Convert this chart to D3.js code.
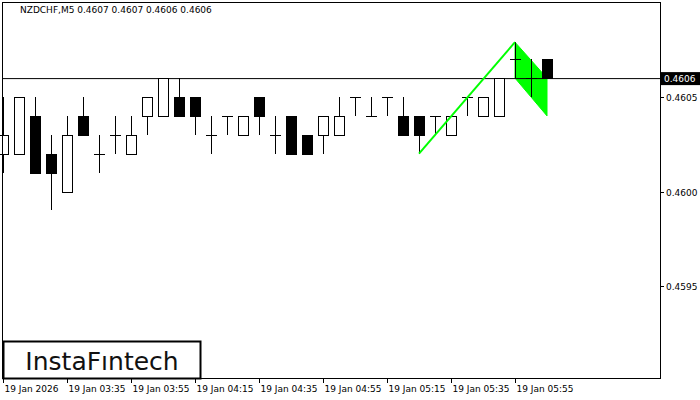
<!DOCTYPE html>
<html><head><meta charset="utf-8">
<script src="https://cdn.jsdelivr.net/npm/d3@7"></script>
<style>body{margin:0;background:#fff}text{font-family:Tahoma,"DejaVu Sans",sans-serif}</style>
</head><body><svg id="chart" width="700" height="400"></svg>
<script>
// candles: open, high, low, close
const opens  = [.4602,.4602,.4604,.4602,.4600,.4604,.4602,.4603,.4602,.4604,.4604,.4605,.4605,.4603,.4604,.4603,.4605,.4603,.4604,.4603,.4603,.4603,.4605,.4604,.4605,.4604,.4604,.4604,.4603,.4605,.4604,.4604,.4607,.4606,.4607];
const highs  = [.4605,.4605,.4605,.4603,.4604,.4605,.4603,.4604,.4604,.4605,.4606,.4606,.4605,.4604,.4604,.4604,.4605,.4604,.4604,.4603,.4604,.4605,.4605,.4605,.4605,.4605,.4604,.4604,.4604,.4605,.4605,.4606,.46079,.4607,.4607];
const lows   = [.4601,.4602,.4601,.4599,.4600,.4603,.4601,.4602,.4602,.4603,.4604,.4604,.4603,.4602,.4603,.4603,.4603,.4602,.4602,.4602,.4602,.4603,.4604,.4604,.4604,.4603,.4602,.4603,.4603,.4604,.4604,.4604,.4606,.4605,.4606];
const closes = [.4603,.4605,.4601,.4601,.4603,.4603,.4602,.4603,.4603,.4605,.4606,.4604,.4604,.4603,.4604,.4604,.4604,.4603,.4602,.4602,.4604,.4604,.4605,.4604,.4605,.4603,.4603,.4604,.4604,.4605,.4605,.4606,.4607,.4606,.4606];
const timeLabels = ['19 Jan 2026','19 Jan 03:35','19 Jan 03:55','19 Jan 04:15','19 Jan 04:35','19 Jan 04:55','19 Jan 05:15','19 Jan 05:35','19 Jan 05:55'];
const priceTicks = [0.4605, 0.4600, 0.4595];
const lastPrice = 0.4606;
// pole: [index, price], flag: top and bottom edges
const pole = [[26, 0.4602], [32, 0.46079]];
const flag = [[32, 0.46079], [34, 0.4606], [34, 0.4604], [32, 0.4606]];

const svg = d3.select('#chart');
const x = d3.scaleLinear().domain([0, 1]).range([3, 19]);
const y = d3.scaleLinear().domain([0.4605, 0.4600]).range([97, 191.5]);
const idx = d3.range(opens.length);

svg.append('text').attr('x', 20).attr('y', 13).attr('font-size', 9).attr('fill', '#000')
  .text('NZDCHF,M5  0.4607 0.4607 0.4606 0.4606');

// flag body (behind candles)
svg.append('path').attr('d', d3.line().x(d => x(d[0])).y(d => y(d[1]))(flag) + 'Z')
  .attr('fill', '#00ff00').attr('stroke', '#00ff00').attr('stroke-width', 1);

// current price line
svg.append('line').attr('x1', 2).attr('x2', 660).attr('y1', y(lastPrice) + .5).attr('y2', y(lastPrice) + .5)
  .attr('stroke', '#000');

const g = svg.append('g').attr('shape-rendering', 'crispEdges');
g.selectAll('.wick').data(idx).join('line')
  .attr('x1', i => Math.round(x(i)) + .5).attr('x2', i => Math.round(x(i)) + .5)
  .attr('y1', i => Math.round(y(highs[i]))).attr('y2', i => Math.round(y(lows[i])))
  .attr('stroke', '#000');
g.selectAll('.body').data(idx.filter(i => opens[i] !== closes[i])).join('rect')
  .attr('x', i => Math.round(x(i)) - 5 + .5)
  .attr('width', 10)
  .attr('y', i => Math.round(y(Math.max(opens[i], closes[i]))) + .5)
  .attr('height', i => Math.round(Math.abs(y(opens[i]) - y(closes[i]))))
  .attr('fill', i => closes[i] < opens[i] ? '#000' : '#fff')
  .attr('stroke', '#000');
g.selectAll('.doji').data(idx.filter(i => opens[i] === closes[i])).join('line')
  .attr('x1', i => Math.round(x(i)) - 5).attr('x2', i => Math.round(x(i)) + 6)
  .attr('y1', i => Math.round(y(opens[i])) + .5).attr('y2', i => Math.round(y(opens[i])) + .5)
  .attr('stroke', '#000');

// flag pole (over candles)
svg.append('path').attr('d', d3.line().x(d => x(d[0])).y(d => y(d[1]))(pole))
  .attr('fill', 'none').attr('stroke', '#00ff00').attr('stroke-width', 2);

// frame
svg.append('rect').attr('x', 2.5).attr('y', 2.5).attr('width', 657.5).attr('height', 376)
  .attr('fill', 'none').attr('stroke', '#000').attr('shape-rendering', 'crispEdges');

// right axis
priceTicks.forEach(p => {
  svg.append('line').attr('x1', 660).attr('x2', 664).attr('y1', Math.round(y(p)) + .5).attr('y2', Math.round(y(p)) + .5).attr('stroke', '#000');
  svg.append('text').attr('x', 666).attr('y', y(p) + 4).attr('font-size', 9).attr('fill', '#000').text(p.toFixed(4));
});
svg.append('rect').attr('x', 661).attr('y', y(lastPrice) - 6).attr('width', 39).attr('height', 13).attr('fill', '#000');
svg.append('text').attr('x', 664).attr('y', y(lastPrice) + 4).attr('font-size', 9).attr('fill', '#fff').text(lastPrice.toFixed(4));

// bottom axis
timeLabels.forEach((t, k) => {
  const xx = Math.round(x(k * 4)) + .5;
  svg.append('line').attr('x1', xx).attr('x2', xx).attr('y1', 378).attr('y2', 383).attr('stroke', '#000');
  svg.append('text').attr('x', xx + 1).attr('y', 392).attr('font-size', 9).attr('fill', '#000').text(t);
});

// logo
svg.append('rect').attr('x', 3.5).attr('y', 341.5).attr('width', 197).attr('height', 37)
  .attr('fill', '#fff').attr('stroke', '#000').attr('stroke-width', 2);
svg.append('text').attr('x', 102).attr('y', 370).attr('text-anchor', 'middle')
  .attr('font-size', 25).attr('font-weight', 500).attr('font-family', 'Inter, "Open Sans", sans-serif').attr('fill', '#111')
  .text('InstaFıntech');
</script></body></html>
